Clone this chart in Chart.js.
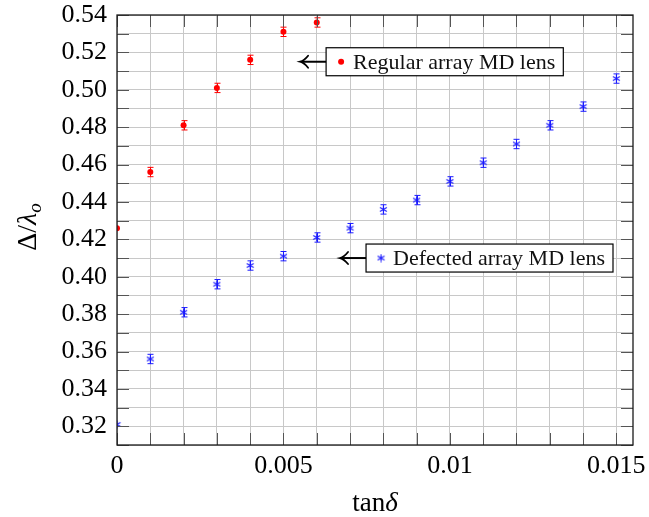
<!DOCTYPE html>
<html>
<head>
<meta charset="utf-8">
<script src="https://cdn.jsdelivr.net/npm/chart.js@4.4.0/dist/chart.umd.min.js"></script>
<style>
  body { margin: 0; background: #fff; }
  canvas { display: block; }
</style>
</head>
<body>
<canvas id="lensChart" width="649" height="517"></canvas>
<script>
// Data
const regularX = [0, 0.001, 0.002, 0.003, 0.004, 0.005, 0.006];
const regularY = [0.426, 0.456, 0.481, 0.501, 0.516, 0.531, 0.536];
const regularErr = [0, 0.0025, 0.0025, 0.0025, 0.0025, 0.0025, 0.0025];

const defectedX = [0, 0.001, 0.002, 0.003, 0.004, 0.005, 0.006, 0.007,
                   0.008, 0.009, 0.010, 0.011, 0.012, 0.013, 0.014, 0.015];
const defectedY = [0.321, 0.356, 0.381, 0.396, 0.406, 0.411, 0.421, 0.426,
                   0.436, 0.441, 0.451, 0.461, 0.471, 0.481, 0.491, 0.506];
const defectedErr = [0, 0.0025, 0.0025, 0.0025, 0.0025, 0.0025, 0.0025, 0.0025,
                     0.0025, 0.0025, 0.0025, 0.0025, 0.0025, 0.0025, 0.0025, 0.0025];

const xTickLabels = [0, 0.005, 0.01, 0.015];
const yTickLabels = [0.32, 0.34, 0.36, 0.38, 0.40, 0.42, 0.44, 0.46, 0.48, 0.50, 0.52, 0.54];

const seriesNames = ['Regular array MD lens', 'Defected array MD lens'];

const SERIF = '"Liberation Serif", "DejaVu Serif", serif';
const RED = '#ff0000';
const BLUE = '#1a1aff';

// asterisk marker like pgfplots "*"
function makeAsterisk(color) {
    const c = document.createElement('canvas');
    c.width = 9; c.height = 9;
    const g = c.getContext('2d');
    g.strokeStyle = color;
    g.lineWidth = 1.1;
    for (let i = 0; i < 3; i++) {
        const a = Math.PI / 2 + i * Math.PI / 3;
        g.beginPath();
        g.moveTo(4.5 + 4 * Math.cos(a), 4.5 + 4 * Math.sin(a));
        g.lineTo(4.5 - 4 * Math.cos(a), 4.5 - 4 * Math.sin(a));
        g.stroke();
    }
    return c;
}
const asterisk = makeAsterisk(BLUE);

function toPoints(xs, ys) {
    return xs.map((x, i) => ({ x: x, y: ys[i] }));
}

// error bars drawn through the scales
const errorBarPlugin = {
    id: 'errorBars',
    beforeDatasetsDraw(chart) {
        const ctx = chart.ctx;
        const xs = chart.scales.x, ys = chart.scales.y;
        chart.data.datasets.forEach(ds => {
            if (!ds.errors) return;
            ctx.save();
            ctx.strokeStyle = ds.borderColor;
            ctx.lineWidth = 1;
            ds.data.forEach((p, i) => {
                const e = ds.errors[i];
                if (!e) return;
                const px = Math.round(xs.getPixelForValue(p.x)) + 0.5;
                const top = ys.getPixelForValue(p.y + e);
                const bot = ys.getPixelForValue(p.y - e);
                ctx.beginPath();
                ctx.moveTo(px, top); ctx.lineTo(px, bot);
                ctx.moveTo(px - 3, top); ctx.lineTo(px + 3, top);
                ctx.moveTo(px - 3, bot); ctx.lineTo(px + 3, bot);
                ctx.stroke();
            });
            ctx.restore();
        });
    }
};

// frame, inner tick marks, axis titles and the two pin labels
const decorPlugin = {
    id: 'decor',
    afterDraw(chart) {
        const ctx = chart.ctx;
        const a = chart.chartArea;
        const xs = chart.scales.x, ys = chart.scales.y;
        ctx.save();

        // inner ticks
        ctx.strokeStyle = '#555';
        ctx.lineWidth = 1;
        ctx.beginPath();
        xs.ticks.forEach(t => {
            const px = Math.round(xs.getPixelForValue(t.value)) + 0.5;
            ctx.moveTo(px, a.bottom); ctx.lineTo(px, a.bottom - 12);
            ctx.moveTo(px, a.top); ctx.lineTo(px, a.top + 12);
        });
        ys.ticks.forEach(t => {
            const py = Math.round(ys.getPixelForValue(t.value)) + 0.5;
            ctx.moveTo(a.left, py); ctx.lineTo(a.left + 12, py);
            ctx.moveTo(a.right, py); ctx.lineTo(a.right - 12, py);
        });
        ctx.stroke();

        // frame
        ctx.strokeStyle = '#1a1a1a';
        ctx.lineWidth = 1.3;
        ctx.strokeRect(a.left, a.top, a.right - a.left, a.bottom - a.top);

        // x title: tan + italic delta
        ctx.fillStyle = '#000';
        ctx.textBaseline = 'alphabetic';
        ctx.font = '27px ' + SERIF;
        const w1 = ctx.measureText('tan').width;
        ctx.font = 'italic 27px ' + SERIF;
        const w2 = ctx.measureText('δ').width;
        const cx = (a.left + a.right) / 2;
        let x0 = cx - (w1 + w2) / 2;
        ctx.font = '27px ' + SERIF;
        ctx.textAlign = 'left';
        ctx.fillText('tan', x0, 511);
        ctx.font = 'italic 27px ' + SERIF;
        ctx.fillText('δ', x0 + w1, 511);

        // y title: Delta / lambda_o
        ctx.save();
        ctx.translate(36, 227);
        ctx.rotate(-Math.PI / 2);
        const parts = [
            { t: 'Δ/', f: '28px ' + SERIF, dy: 0 },
            { t: 'λ', f: 'italic 28px ' + SERIF, dy: 0 },
            { t: 'o', f: 'italic 19px ' + SERIF, dy: 5 }
        ];
        let total = 0;
        parts.forEach(p => { ctx.font = p.f; p.w = ctx.measureText(p.t).width; total += p.w; });
        let px = -total / 2;
        parts.forEach(p => { ctx.font = p.f; ctx.fillText(p.t, px, p.dy); px += p.w; });
        ctx.restore();

        // pin labels with arrows
        const pins = [
            { name: seriesNames[0], at: { x: 0.0055, y: 0.515 }, marker: 'dot' },
            { name: seriesNames[1], at: { x: 0.0067, y: 0.41 }, marker: 'star' }
        ];
        pins.forEach(pin => {
            const tx = xs.getPixelForValue(pin.at.x);
            const ty = ys.getPixelForValue(pin.at.y);
            const bx = tx + 26;
            ctx.font = '22px ' + SERIF;
            const tw = ctx.measureText(pin.name).width;
            const bw = 15 + 12 + tw + 8;
            const bh = 28;
            ctx.fillStyle = '#fff';
            ctx.fillRect(bx, ty - bh / 2, bw, bh);
            ctx.strokeStyle = '#000';
            ctx.lineWidth = 1.2;
            ctx.strokeRect(bx, ty - bh / 2, bw, bh);
            // marker
            if (pin.marker === 'dot') {
                ctx.fillStyle = RED;
                ctx.beginPath();
                ctx.arc(bx + 15, ty, 3, 0, Math.PI * 2);
                ctx.fill();
            } else {
                ctx.drawImage(asterisk, bx + 15 - 4.5, ty - 4.5);
            }
            ctx.fillStyle = '#111';
            ctx.textBaseline = 'middle';
            ctx.fillText(pin.name, bx + 27, ty + 1);
            // arrow
            ctx.strokeStyle = '#000';
            ctx.lineWidth = 2;
            ctx.beginPath();
            ctx.moveTo(bx, ty); ctx.lineTo(tx + 2, ty);
            ctx.stroke();
            ctx.lineWidth = 1.8;
            ctx.lineCap = 'round';
            ctx.beginPath();
            ctx.moveTo(tx + 8, ty - 6);
            ctx.quadraticCurveTo(tx + 4, ty - 1, tx, ty);
            ctx.quadraticCurveTo(tx + 4, ty + 1, tx + 8, ty + 6);
            ctx.stroke();
            ctx.lineCap = 'butt';
        });
        ctx.restore();
    }
};

function near(v, list, eps) {
    return list.find(t => Math.abs(t - v) < eps);
}

new Chart(document.getElementById('lensChart'), {
    type: 'scatter',
    data: {
        datasets: [{
            label: seriesNames[0],
            data: toPoints(regularX, regularY),
            errors: regularErr,
            borderColor: RED,
            backgroundColor: RED,
            pointStyle: 'circle',
            pointRadius: 3,
            pointBorderWidth: 0
        }, {
            label: seriesNames[1],
            data: toPoints(defectedX, defectedY),
            errors: defectedErr,
            borderColor: BLUE,
            backgroundColor: BLUE,
            pointStyle: asterisk,
            pointRadius: 4
        }]
    },
    options: {
        responsive: false,
        animation: false,
        devicePixelRatio: 1,
        layout: { padding: { top: 15, right: 16, left: 0, bottom: 0 } },
        plugins: {
            legend: { display: false },
            tooltip: { enabled: false }
        },
        scales: {
            x: {
                type: 'linear',
                min: 0,
                max: 0.0155,
                grid: { color: '#c8c8c8', lineWidth: 1, drawTicks: false },
                border: { display: false },
                ticks: {
                    stepSize: 0.001,
                    includeBounds: false,
                    autoSkip: false,
                    maxRotation: 0,
                    padding: 6,
                    color: '#000',
                    font: { family: SERIF, size: 26 },
                    callback: v => {
                        const t = near(v, xTickLabels, 1e-7);
                        return t === undefined ? '' : String(t);
                    }
                },
                afterFit: s => {
                    s.height = 72;
                    s.paddingLeft = 0; s.paddingRight = 0;
                }
            },
            y: {
                min: 0.31,
                max: 0.54,
                grid: { color: '#c8c8c8', lineWidth: 1, drawTicks: false },
                border: { display: false },
                ticks: {
                    stepSize: 0.01,
                    autoSkip: false,
                    padding: 10,
                    color: '#000',
                    font: { family: SERIF, size: 26 },
                    callback: v => {
                        const t = near(v, yTickLabels, 1e-6);
                        return t === undefined ? '' : t.toFixed(2);
                    }
                },
                afterFit: s => {
                    s.width = 117;
                    s.paddingTop = 0; s.paddingBottom = 0;
                }
            }
        }
    },
    plugins: [errorBarPlugin, decorPlugin]
});
</script>
</body>
</html>
